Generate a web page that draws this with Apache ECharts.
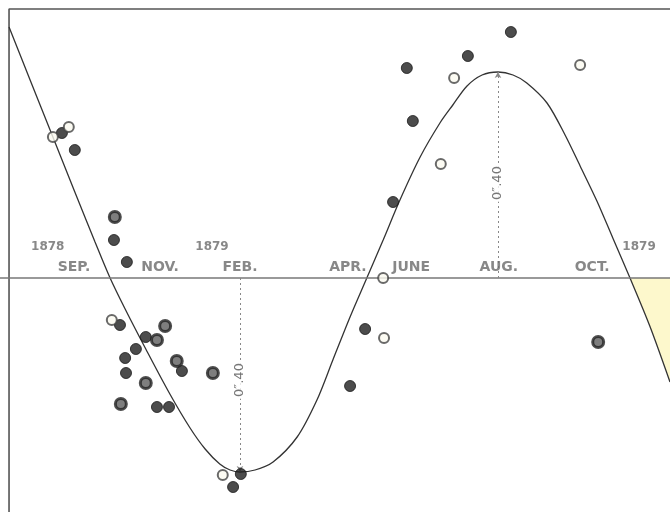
<!DOCTYPE html>
<html>
<head>
<meta charset="utf-8">
<script src="https://cdn.jsdelivr.net/npm/echarts@6/dist/echarts.min.js"></script>
<style>
html,body{margin:0;padding:0;background:#fff;}
#chart{width:670px;height:512px;}
</style>
</head>
<body>
<div id="chart"></div>
<script>
// x: months relative to Feb 1879 (0); y: seconds of arc
const curveM = [-5.37,-4.88,-4.35,-3.84,-3.37,-3.02,-2.67,-2.19,-1.63,-1.16,-0.81,-0.47,-0.23,0,0.35,0.77,1.33,1.79,2.16,2.56,2.95,3.33,3.72,4.19,4.65,4.95,5.28,5.63,6.00,6.35,6.67,7.14,7.56,7.91,8.30,8.67,9.07,9.53,10.0];
const curveV = [0.502,0.396,0.282,0.172,0.072,0,-0.062,-0.142,-0.232,-0.300,-0.342,-0.372,-0.384,-0.388,-0.384,-0.368,-0.318,-0.244,-0.164,-0.078,0,0.076,0.156,0.242,0.310,0.346,0.384,0.406,0.412,0.406,0.390,0.350,0.286,0.224,0.154,0.080,0,-0.096,-0.208];

const solidM = [-4.14,-3.84,-2.93,-2.63,-2.79,-2.19,-2.42,-2.67,-2.65,-1.35,-1.93,-1.65,0.02,-0.16,2.56,2.91,3.88,4.02,5.30,6.30,3.56];
const solidV = [0.290,0.256,0.076,0.032,-0.094,-0.118,-0.142,-0.160,-0.190,-0.186,-0.258,-0.258,-0.392,-0.418,-0.216,-0.102,0.420,0.314,0.444,0.492,0.152];

const ringM = [-2.91,-1.93,-1.47,-0.63,-2.19,-2.77,8.33,-1.74];
const ringV = [0.122,-0.124,-0.166,-0.190,-0.210,-0.252,-0.128,-0.096];

const openM = [-4.35,-3.98,-2.98,-0.40,3.35,3.33,4.98,4.67,7.91];
const openV = [0.282,0.302,-0.084,-0.394,-0.120,0.0,0.400,0.228,0.426];

const monthLabels = ['SEP.','NOV.','FEB.','APR.','JUNE','AUG.','OCT.'];
const monthPos = [-3.86,-1.86,0,2.51,3.98,6.02,8.19];
const yearLabels = ['1878','1879','1879'];
const yearPos = [-4.47,-0.65,9.28];
const ampText = '0\u2033.40';
const ampLabelV = [-0.204, 0.19];

const X_MIN = -5.58, X_MAX = 10.0, Y_MIN = -0.468, Y_MAX = 0.556;
const FRAME_X = -5.37, FRAME_Y = 0.538;
const MONTH_V = 0.022, YEAR_V = 0.062;

const zip = (a, b) => a.map((v, i) => [v, b[i]]);
const curve = zip(curveM, curveV);

// extremes of the curve (inner trough and crest) for the amplitude indicators
let iMin = -1, iMax = -1;
curveV.forEach((v, i) => {
  if (curveM[i] < -2 || curveM[i] > 8.5) return;
  if (iMin < 0 || v < curveV[iMin]) iMin = i;
  if (iMax < 0 || v > curveV[iMax]) iMax = i;
});
const lastZero = curveM.reduce((acc, m, i) => (curveV[i] === 0 ? i : acc), 0);
const yellow = curve.slice(lastZero);

const labelData = monthLabels.map((t, i) => [monthPos[i], MONTH_V, t]);
const yearData = yearLabels.map((t, i) => [yearPos[i], YEAR_V, t]);

const ampData = [
  [curveM[iMin], ampLabelV[0], ampText],
  [curveM[iMax], ampLabelV[1], ampText]
];

const chart = echarts.init(document.getElementById('chart'), null, {renderer: 'canvas'});
const dotSize = 11;
chart.setOption({
  backgroundColor: '#ffffff',
  animation: false,
  grid: {left: 0, right: 0, top: 0, bottom: 0},
  xAxis: {type: 'value', min: X_MIN, max: X_MAX, show: false},
  yAxis: {type: 'value', min: Y_MIN, max: Y_MAX, show: false},
  series: [
    {
      type: 'line', data: yellow, smooth: 0.3, showSymbol: false, silent: true,
      lineStyle: {width: 0}, areaStyle: {color: '#fdf8cc', opacity: 1}, z: 1
    },
    {
      type: 'line', data: [[FRAME_X, Y_MIN], [FRAME_X, FRAME_Y], [X_MAX, FRAME_Y]],
      showSymbol: false, silent: true, lineStyle: {color: '#555', width: 1.6}, z: 2,
      markLine: {
        silent: true, symbol: ['none', 'none'], label: {show: false},
        lineStyle: {color: '#777', width: 1.6, type: 'solid'},
        data: [{yAxis: 0}]
      }
    },
    {
      type: 'line', data: curve, smooth: 0.3, showSymbol: false, silent: true,
      lineStyle: {color: '#333', width: 1.3}, z: 3,
      markLine: {
        silent: true, symbol: ['none', 'arrow'], symbolSize: [5, 6], label: {show: false},
        lineStyle: {color: '#888', width: 1, type: [2, 3]},
        data: [
          [{coord: [curveM[iMin], 0]}, {coord: [curveM[iMin], curveV[iMin]]}],
          [{coord: [curveM[iMax], 0]}, {coord: [curveM[iMax], curveV[iMax]]}]
        ]
      }
    },
    {
      type: 'scatter', data: zip(solidM, solidV), symbolSize: dotSize, z: 5,
      itemStyle: {color: '#1f1f1f', borderColor: '#1a1a1a', borderWidth: 1}
    },
    {
      type: 'scatter', data: zip(ringM, ringV), symbolSize: dotSize, z: 5,
      itemStyle: {color: '#5e5e5e', borderColor: '#222', borderWidth: 3}
    },
    {
      type: 'scatter', data: zip(openM, openV), symbolSize: dotSize - 1, z: 5,
      itemStyle: {color: '#fbfaf0', borderColor: '#444', borderWidth: 2}
    },
    {
      type: 'scatter', data: labelData, symbolSize: 0, silent: true, z: 6,
      label: {
        show: true, position: 'inside', formatter: p => p.data[2],
        fontFamily: 'DejaVu Sans', fontSize: 14, color: '#6a6a6a', fontWeight: 'bold'
      }
    },
    {
      type: 'scatter', data: yearData, symbolSize: 0, silent: true, z: 6,
      label: {
        show: true, position: 'inside', formatter: p => p.data[2],
        fontFamily: 'DejaVu Sans', fontSize: 12, color: '#6a6a6a', fontWeight: 'bold'
      }
    },
    {
      type: 'scatter', data: ampData, symbolSize: 0, silent: true, z: 6,
      label: {
        show: true, position: 'inside', rotate: 90, formatter: p => p.data[2],
        fontFamily: 'DejaVu Sans', fontSize: 13, color: '#555',
        backgroundColor: '#ffffff', padding: [0, 2]
      }
    }
  ]
});
</script>
</body>
</html>
